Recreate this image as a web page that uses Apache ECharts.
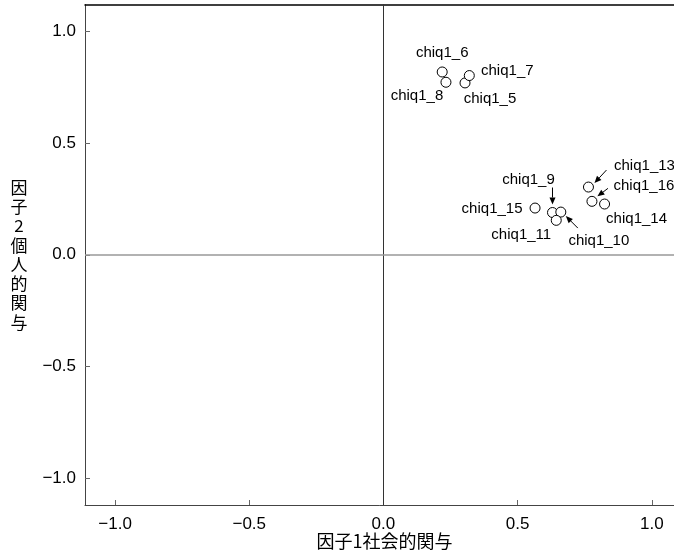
<!DOCTYPE html>
<html>
<head>
<meta charset="utf-8">
<script src="https://cdn.jsdelivr.net/npm/echarts@6/dist/echarts.min.js"></script>
<style>
html,body{margin:0;padding:0;background:#fff;}
#chart{width:674px;height:556px;}
</style>
</head>
<body>
<div id="chart"></div>
<script>
// ---- data ----
const itemNames = ['chiq1_5','chiq1_6','chiq1_7','chiq1_8','chiq1_9','chiq1_10','chiq1_11','chiq1_13','chiq1_14','chiq1_15','chiq1_16'];
const factor1 = [0.304, 0.219, 0.320, 0.233, 0.630, 0.661, 0.644, 0.764, 0.824, 0.565, 0.777];
const factor2 = [0.769, 0.818, 0.802, 0.772, 0.189, 0.191, 0.154, 0.303, 0.227, 0.209, 0.239];
const xTicks = [-1.0, -0.5, 0.0, 0.5, 1.0];
const yTicks = [-1.0, -0.5, 0.0, 0.5, 1.0];
const xName = '因子1社会的関与';
const yName = '因子2個人的関与';

// ---- annotation layout (pixel offsets relative to each point) ----
const labelOffsets = {
  'chiq1_5': [25, 16], 'chiq1_6': [0, -19], 'chiq1_7': [38, -5], 'chiq1_8': [-29, 14],
  'chiq1_9': [-24, -33], 'chiq1_10': [38, 29], 'chiq1_11': [-35, 15], 'chiq1_13': [56, -21],
  'chiq1_14': [32, 15], 'chiq1_15': [-43, 1], 'chiq1_16': [52, -15]
};
const arrowOffsets = {
  'chiq1_9': [0, -25, 0, -8],
  'chiq1_10': [17, 16, 5, 4],
  'chiq1_13': [18, -17, 6, -4],
  'chiq1_16': [16, -13, 5.5, -5]
};

const fmt = v => {
  const s = Math.abs(v).toFixed(1);
  return v < -1e-9 ? '\u2212' + s : s;
};

const scatterData = itemNames.map((n, i) => ({
  name: n,
  value: [factor1[i], factor2[i]],
  label: { offset: labelOffsets[n] }
}));
const arrowData = itemNames
  .map((n, i) => ({ name: n, value: [factor1[i], factor2[i]] }))
  .filter(d => arrowOffsets[d.name]);

const chart = echarts.init(document.getElementById('chart'));
const latin = '"Liberation Sans", Arial, Helvetica, sans-serif';
const cjk = '"Noto Sans CJK JP", "Liberation Sans", sans-serif';

chart.setOption({
  animation: false,
  backgroundColor: '#fff',
  grid: { left: 85, top: 4.5, width: 599, height: 500.5, containLabel: false, outerBoundsMode: 'none' },
  xAxis: [{
    type: 'value', min: -1.112, max: 1.12,
    name: xName, nameLocation: 'middle', nameGap: 36, nameMoveOverlap: false,
    nameTextStyle: { fontFamily: cjk, fontSize: 18, color: '#000', verticalAlign: 'middle' },
    axisLine: { show: true, onZero: false, lineStyle: { color: '#444', width: 1 } },
    axisTick: { show: true, inside: true, length: 5, customValues: xTicks, lineStyle: { color: '#666' } },
    axisLabel: { customValues: xTicks, formatter: fmt, fontFamily: latin, fontSize: 17, color: '#000', margin: 11 },
    splitLine: { show: false }
  }, {
    type: 'value', min: -1.112, max: 1.12, position: 'top',
    axisLine: { show: true, onZero: false, lineStyle: { color: '#000', width: 1.5 } },
    axisTick: { show: false }, axisLabel: { show: false }, splitLine: { show: false }
  }],
  yAxis: {
    type: 'value', min: -1.12, max: 1.12,
    name: yName.split('').join('\n'), nameLocation: 'middle', nameGap: 66, nameRotate: 0, nameMoveOverlap: false,
    nameTextStyle: { fontFamily: cjk, fontSize: 17, lineHeight: 19.3, color: '#000', align: 'center', verticalAlign: 'middle', padding: [6, 0, 0, 0] },
    axisLine: { show: true, onZero: false, lineStyle: { color: '#444', width: 1 } },
    axisTick: { show: true, inside: true, length: 5, customValues: yTicks, lineStyle: { color: '#666' } },
    axisLabel: { customValues: yTicks, formatter: fmt, fontFamily: latin, fontSize: 17, color: '#000', margin: 9 },
    splitLine: { show: false }
  },
  series: [{
    type: 'scatter',
    xAxisIndex: 0,
    data: scatterData,
    symbol: 'circle',
    symbolSize: 10,
    itemStyle: { color: '#fff', borderColor: '#000', borderWidth: 1, opacity: 1 },
    label: {
      show: true, formatter: '{b}', position: 'inside',
      align: 'center', verticalAlign: 'middle',
      fontFamily: latin, fontSize: 15, color: '#000'
    },
    emphasis: { disabled: true },
    markLine: {
      silent: true, symbol: 'none', label: { show: false },
      data: [
        { xAxis: 0, lineStyle: { color: '#333', width: 1, type: 'solid' } },
        { yAxis: 0, lineStyle: { color: '#999', width: 1.5, type: 'solid' } }
      ]
    },
    z: 3
  }, {
    type: 'custom',
    xAxisIndex: 0,
    data: arrowData,
    silent: true,
    z: 4,
    renderItem: function (params, api) {
      const d = arrowData[params.dataIndex];
      const o = arrowOffsets[d.name];
      const p = api.coord([api.value(0), api.value(1)]);
      const x1 = p[0] + o[0], y1 = p[1] + o[1];
      const x2 = p[0] + o[2], y2 = p[1] + o[3];
      const ang = Math.atan2(y2 - y1, x2 - x1);
      const hl = 7, hw = 3;
      const bx = x2 - hl * Math.cos(ang), by = y2 - hl * Math.sin(ang);
      const nx = -Math.sin(ang) * hw, ny = Math.cos(ang) * hw;
      return {
        type: 'group',
        children: [{
          type: 'line',
          shape: { x1: x1, y1: y1, x2: bx, y2: by },
          style: { stroke: '#000', lineWidth: 1 }
        }, {
          type: 'polygon',
          shape: { points: [[x2, y2], [bx + nx, by + ny], [bx - nx, by - ny]] },
          style: { fill: '#000' }
        }]
      };
    }
  }]
});
</script>
</body>
</html>
